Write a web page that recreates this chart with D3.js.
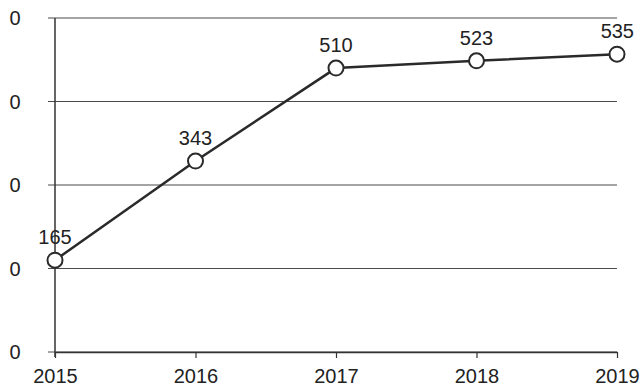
<!DOCTYPE html>
<html>
<head>
<meta charset="utf-8">
<script src="https://cdn.jsdelivr.net/npm/d3@7"></script>
<style>
  body { margin: 0; background: #fff; }
  text { font-family: "Liberation Sans", Arial, sans-serif; fill: #222; }
</style>
</head>
<body>
<svg id="chart" width="640" height="389"></svg>
<script>
var years = ["2015", "2016", "2017", "2018", "2019"];
var values = [165, 343, 510, 523, 535];
var yTicks = [0, 150, 300, 450, 600];
var yTickLabels = ["0", "0", "0", "0", "0"];

var margin = {top: 18, right: 23, bottom: 37, left: 55};
var width = 640 - margin.left - margin.right;
var height = 389 - margin.top - margin.bottom;

var svg = d3.select("#chart");
var g = svg.append("g")
           .attr("transform", "translate(" + margin.left + "," + margin.top + ")");

var xScale = d3.scalePoint()
               .domain(years)
               .range([0, width]);

var yScale = d3.scaleLinear()
               .domain([0, 600])
               .range([height, 0]);

// horizontal grid lines
g.selectAll(".grid")
  .data(yTicks)
  .enter().append("line")
  .attr("x1", -7)
  .attr("x2", width)
  .attr("y1", function(d) { return yScale(d); })
  .attr("y2", function(d) { return yScale(d); })
  .attr("stroke", "#4a4a4a")
  .attr("stroke-width", 1.2);

// y axis line
g.append("line")
  .attr("x1", 0).attr("x2", 0)
  .attr("y1", yScale(600)).attr("y2", yScale(0) + 5)
  .attr("stroke", "#333")
  .attr("stroke-width", 1.5);

// y tick labels (only last digit visible in the scan)
g.selectAll(".ylab")
  .data(yTicks)
  .enter().append("text")
  .attr("x", -40)
  .attr("y", function(d) { return yScale(d); })
  .attr("dy", "0.35em")
  .attr("text-anchor", "middle")
  .style("font-size", "20px")
  .text(function(d, i) { return yTickLabels[i]; });

// x axis
var xAxis = d3.axisBottom(xScale).tickSize(6).tickSizeOuter(0);
var xg = g.append("g")
  .attr("transform", "translate(0," + height + ")")
  .call(xAxis);
xg.select(".domain").attr("stroke", "#333").attr("stroke-width", 1.5);
xg.selectAll(".tick line").attr("stroke", "#333").attr("stroke-width", 1.2);
xg.selectAll(".tick text")
  .attr("dy", "0")
  .attr("y", 31)
  .style("font-size", "20px")
  .style("font-family", "'Liberation Sans', Arial, sans-serif")
  .attr("fill", "#222");

var line = d3.line()
  .x(function(d, i) { return xScale(years[i]); })
  .y(function(d) { return yScale(d); });

g.append("path")
  .datum(values)
  .attr("d", line)
  .attr("fill", "none")
  .attr("stroke", "#2a2a2a")
  .attr("stroke-width", 2.5);

g.selectAll(".dot")
  .data(values)
  .enter().append("circle")
  .attr("cx", function(d, i) { return xScale(years[i]); })
  .attr("cy", function(d) { return yScale(d); })
  .attr("r", 7.5)
  .attr("fill", "#fff")
  .attr("stroke", "#2a2a2a")
  .attr("stroke-width", 2);

g.selectAll(".vlab")
  .data(values)
  .enter().append("text")
  .attr("x", function(d, i) { return xScale(years[i]); })
  .attr("y", function(d) { return yScale(d) - 16; })
  .attr("text-anchor", function(d, i) { return i == values.length - 1 ? "end" : "middle"; })
  .attr("dx", function(d, i) { return i == values.length - 1 ? 17 : 0; })
  .style("font-size", "20px")
  .attr("fill", "#333")
  .text(function(d) { return d; });
</script>
</body>
</html>
